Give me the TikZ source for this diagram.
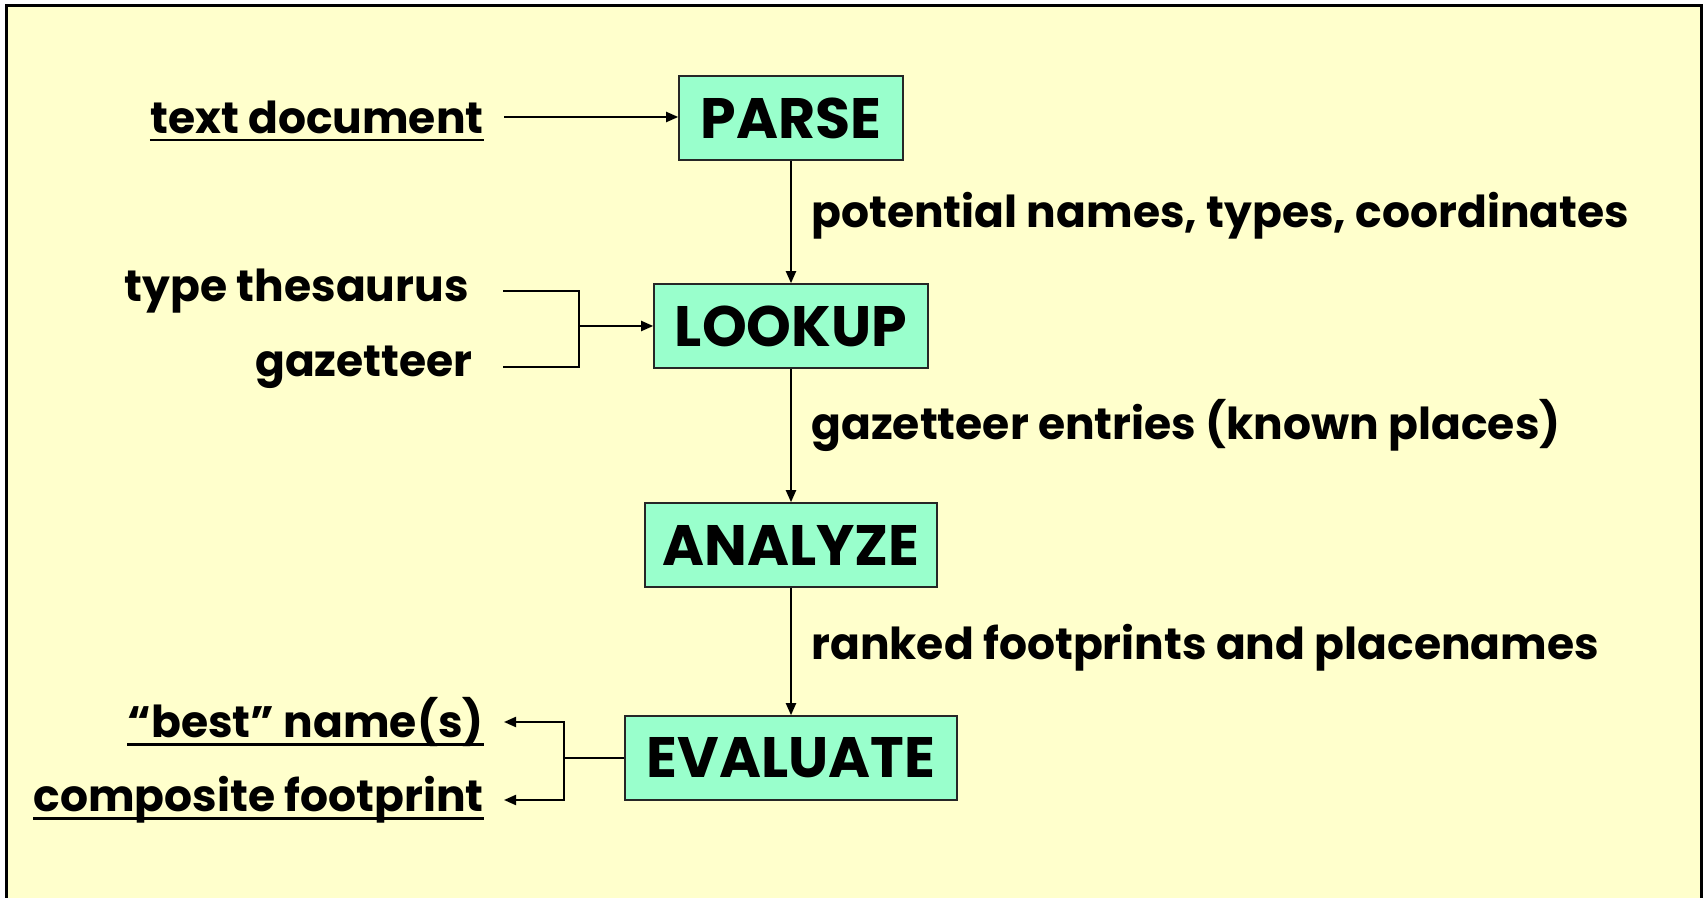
\documentclass[tikz,border=0pt]{standalone}
\usepackage{fontspec}
\setmainfont{Poppins}
\usetikzlibrary{arrows.meta}
\definecolor{paper}{RGB}{255,255,204}
\definecolor{mint}{RGB}{153,255,204}

\begin{document}
\begin{tikzpicture}[x=0.5pt,y=-0.5pt,
  box/.style={draw=black!85,line width=0.8pt,fill=mint,minimum height=42pt,
    inner sep=0pt,font=\fontsize{28.5}{33}\selectfont\bfseries},
  lbl/.style={inner sep=0pt,font=\fontsize{22}{26}\selectfont\bfseries},
  ul/.style={append after command={([yshift=-3.5pt]\tikzlastnode.base west)
    edge[line width=1.4pt] ([yshift=-3.5pt]\tikzlastnode.base east)}},
  wire/.style={line width=1pt},
  flow/.style={wire,-{Triangle[length=6pt,width=5pt]}}]
\useasboundingbox (0,0) rectangle (1703,898);
% frame
\draw[fill=paper,line width=1.5pt] (6,6) rectangle (1701,940);
% steps
\node[box,minimum width=112pt] (parse)    at (791,118) {PARSE};
\node[box,minimum width=137pt] (lookup)   at (791,326) {LOOKUP};
\node[box,minimum width=146pt] (analyze)  at (791,545) {ANALYZE};
\node[box,minimum width=166pt] (evaluate) at (791,758) {EVALUATE};
% inputs and outputs
\node[lbl,ul,anchor=east] (textdoc) at (484,117) {text document};
\node[lbl,anchor=east]    (thes)    at (469,291) {type thesaurus};
\node[lbl,anchor=east]    (gaz)     at (473,367) {gazetteer};
\node[lbl,ul,anchor=east] (best)    at (484,722) {“best” name(s)};
\node[lbl,ul,anchor=east] (comp)    at (484,800) {composite footprint};
% what flows between steps
\node[lbl,anchor=west] (names)   at (811,216) {potential names, types, coordinates};
\node[lbl,anchor=west] (entries) at (811,425) {gazetteer entries (known places)};
\node[lbl,anchor=west] (ranked)  at (811,648) {ranked footprints and placenames};
% connectors
\coordinate (join) at (579,326);
\coordinate (split) at (564,758);
\draw[flow] ([xshift=10pt]textdoc.east) -- (parse.west |- textdoc.east);
\draw[wire] ([xshift=17pt]thes.east) -| (join);
\draw[wire] ([xshift=15pt]gaz.east) -| (join);
\draw[flow] (join) -- (lookup.west);
\draw[flow] (parse) -- (lookup);
\draw[flow] (lookup) -- (analyze);
\draw[flow] (analyze) -- (evaluate);
\draw[wire] (evaluate.west) -- (split);
\draw[flow] (split) |- ([xshift=10pt]best.east);
\draw[flow] (split) |- ([xshift=10pt]comp.east);
\end{tikzpicture}
\end{document}
